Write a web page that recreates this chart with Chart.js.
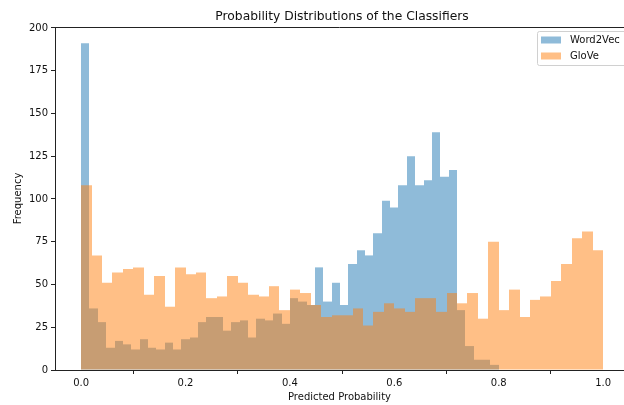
<!DOCTYPE html>
<html>
<head>
<meta charset="utf-8">
<script src="https://cdn.jsdelivr.net/npm/chart.js@4.4.1/dist/chart.umd.min.js"></script>
<style>
  html, body { margin: 0; padding: 0; background: #fff; }
  #wrap { width: 624px; height: 405px; }
</style>
</head>
<body>
<div id="wrap"><canvas id="hist"></canvas></div>
<script>
// Histogram counts, 50 bins per classifier
const word2vecCounts = [
  191, 36, 28, 13, 17, 15, 12, 18, 13, 12,
  16, 12, 18, 19, 28, 31, 31, 23, 28, 29,
  19, 30, 29, 33, 27, 42, 40, 38, 60, 40,
  51, 38, 62, 70, 67, 80, 99, 95, 108, 125,
  108, 111, 139, 113, 117, 35, 14, 6, 6, 3
];
const gloveCounts = [
  108, 67, 51, 57, 59, 60, 44, 55, 37, 60,
  56, 57, 42, 43, 55, 51, 44, 43, 49, 35,
  47, 45, 38, 31, 32, 32, 36, 26, 34, 39,
  36, 34, 42, 42, 34, 45, 39, 45, 30, 75,
  35, 47, 31, 41, 43, 52, 62, 77, 81, 70
];
// bin ranges of each histogram
const word2vecRange = [0, 0.8];
const gloveRange = [0, 1];

const seriesNames = ['Word2Vec', 'GloVe'];
const xTicks = [0, 0.2, 0.4, 0.6, 0.8, 1.0];
const yTicks = [0, 25, 50, 75, 100, 125, 150, 175, 200];

const blueFill = 'rgba(31, 119, 180, 0.5)';
const orangeFill = 'rgba(255, 127, 14, 0.5)';

function binPoints(counts, range) {
  const w = (range[1] - range[0]) / counts.length;
  return counts.map((c, i) => ({ x: range[0] + w * (i + 0.5), y: c }));
}

Chart.defaults.font.family = "'DejaVu Sans', sans-serif";
Chart.defaults.color = '#111';

const X_MIN = -0.05, X_MAX = 1.04;

// snap bar edges to whole pixels so neighbouring bins meet without seams
const snapBars = {
  id: 'snapBars',
  afterDatasetsUpdate(chart) {
    chart.getSortedVisibleDatasetMetas().forEach(meta => {
      meta.data.forEach(bar => {
        const l = Math.round(bar.x - bar.width / 2);
        const r = Math.round(bar.x + bar.width / 2);
        bar.x = (l + r) / 2;
        bar.width = r - l;
      });
    });
  }
};

// title over the axes, top spine and the legend box inside the axes
const frameAndLegend = {
  id: 'frameAndLegend',
  afterDraw(chart) {
    const { ctx, chartArea } = chart;
    ctx.save();
    ctx.strokeStyle = '#222';
    ctx.lineWidth = 1;
    ctx.beginPath();
    ctx.moveTo(chartArea.left, chartArea.top + 0.5);
    ctx.lineTo(chartArea.right, chartArea.top + 0.5);
    ctx.stroke();

    ctx.fillStyle = '#111';
    ctx.font = "12.3px 'DejaVu Sans'";
    ctx.textAlign = 'center';
    ctx.textBaseline = 'middle';
    ctx.fillText('Probability Distributions of the Classifiers', 342, 16.5);

    const bx = 537.5, by = 31.5, bw = 100, bh = 34;
    ctx.fillStyle = 'rgba(255,255,255,0.8)';
    ctx.strokeStyle = '#d0d0d0';
    ctx.beginPath();
    ctx.roundRect(bx, by, bw, bh, 2);
    ctx.fill();
    ctx.stroke();

    const fills = [blueFill, orangeFill];
    ctx.font = "10px 'DejaVu Sans'";
    ctx.textAlign = 'left';
    seriesNames.forEach((name, i) => {
      const cy = 40 + i * 16;
      ctx.fillStyle = fills[i];
      ctx.fillRect(541, cy - 3.5, 20, 7);
      ctx.fillStyle = '#111';
      ctx.fillText(name, 570, cy);
    });
    ctx.restore();
  }
};

const fixedTicks = (values) => (scale) => {
  scale.ticks = values.map(v => ({ value: v }));
};

const barStyle = {
  borderWidth: 0,
  inflateAmount: 0,
  barPercentage: 1,
  categoryPercentage: 1,
  grouped: false
};

new Chart(document.getElementById('hist'), {
  type: 'bar',
  data: {
    datasets: [
      {
        label: seriesNames[0],
        data: binPoints(word2vecCounts, word2vecRange),
        xAxisID: 'x',
        backgroundColor: blueFill,
        order: 2,
        ...barStyle
      },
      {
        label: seriesNames[1],
        data: binPoints(gloveCounts, gloveRange),
        xAxisID: 'x2',
        backgroundColor: orangeFill,
        order: 1,
        ...barStyle
      }
    ]
  },
  options: {
    responsive: true,
    maintainAspectRatio: false,
    animation: false,
    layout: { padding: { left: 12, right: 0, top: 27, bottom: 0 } },
    plugins: {
      legend: { display: false },
      tooltip: { enabled: false },
      title: { display: false }
    },
    scales: {
      x: {
        type: 'linear',
        min: X_MIN,
        max: X_MAX,
        offset: false,
        afterBuildTicks: fixedTicks(xTicks),
        afterFit: (scale) => { scale.height = 35; },
        ticks: {
          font: { size: 10 },
          color: '#111',
          padding: 3,
          maxRotation: 0,
          callback: (v) => Number(v).toFixed(1)
        },
        grid: { display: true, drawOnChartArea: false, drawTicks: true, tickLength: 4, color: '#222' },
        border: { display: true, color: '#222', width: 1 },
        title: {
          display: true,
          text: 'Predicted Probability',
          font: { size: 10 },
          color: '#111',
          padding: { top: 0, bottom: 2 }
        }
      },
      x2: {
        type: 'linear',
        display: false,
        min: X_MIN,
        max: X_MAX,
        offset: false,
        afterBuildTicks: fixedTicks(xTicks)
      },
      y: {
        min: 0,
        max: 200.55,
        afterBuildTicks: fixedTicks(yTicks),
        afterFit: (scale) => { scale.width = 43; },
        ticks: { font: { size: 10 }, color: '#111', padding: 3 },
        grid: { display: true, drawOnChartArea: false, drawTicks: true, tickLength: 4, color: '#222' },
        border: { display: true, color: '#222', width: 1 },
        title: {
          display: true,
          text: 'Frequency',
          font: { size: 10 },
          color: '#111',
          padding: { top: 0, bottom: 0 }
        }
      }
    }
  },
  plugins: [snapBars, frameAndLegend]
});
</script>
</body>
</html>
